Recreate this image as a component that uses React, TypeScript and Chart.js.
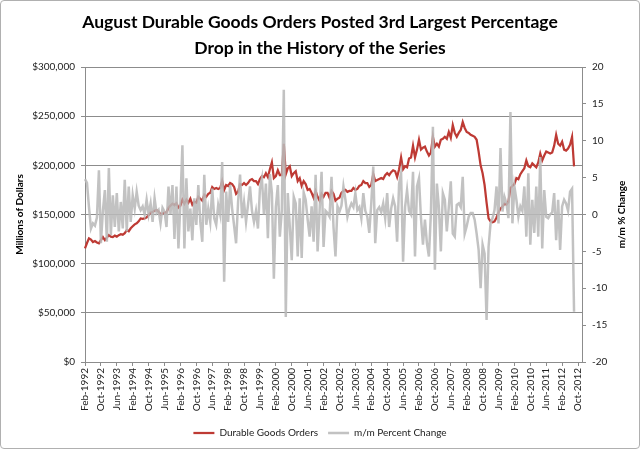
import React, { useEffect, useRef } from "react";
import { Chart, registerables } from "chart.js";

Chart.register(...registerables);

// ---- Data ----
const TITLE_LINES = [
  "August Durable Goods Orders Posted 3rd Largest Percentage",
  "Drop in the History of the Series",
];
const LEFT_AXIS_TITLE = "Millions of Dollars";
const RIGHT_AXIS_TITLE = "m/m % Change";
const SERIES_NAMES = ["Durable Goods Orders", "m/m Percent Change"];

const MONTH_NAMES = ["Jan", "Feb", "Mar", "Apr", "May", "Jun", "Jul", "Aug", "Sep", "Oct", "Nov", "Dec"];
const FIRST_YEAR = 1992;
const FIRST_MONTH = 1; // Feb
const MONTH_COUNT = 251; // Feb-1992 .. Dec-2012 (axis span)
const LABEL_EVERY = 8;

const categories: string[] = [];
for (let i = 0; i < MONTH_COUNT; i++) {
  const m = FIRST_MONTH + i;
  categories.push(MONTH_NAMES[m % 12] + "-" + (FIRST_YEAR + Math.floor(m / 12)));
}

// Durable goods new orders, millions of dollars (Feb-1992 .. Aug-2012)
const durableGoods = [
  115600, 121000, 125700, 124500, 122000, 123000, 121500, 120600, 124000, 127000,
  124000, 126500, 129000, 127500, 127000, 128500, 127500, 129000, 130000, 129500,
  131000, 134000, 133000, 136000, 138000, 140000, 141000, 143000, 146000, 145500,
  146000, 147000, 149500, 152000, 152500, 154000, 154500, 153000, 150000, 151000,
  152000, 152000, 157000, 159000, 161000, 159500, 161500, 157000, 159000, 165000,
  161000, 165000, 162000, 166000, 160000, 163000, 162000, 168000, 166000, 164000,
  170000, 168000, 171000, 172000, 178000, 176000, 177000, 176000, 177000, 184000,
  175000, 180000, 179000, 182000, 181000, 178000, 171000, 173000, 181000, 180000,
  182000, 180000, 182000, 185000, 186000, 184000, 184000, 181000, 186000, 189000,
  188000, 192000, 188000, 196000, 203000, 187000, 189000, 195000, 190000, 190000,
  222000, 191000, 197000, 199000, 189000, 192000, 194000, 184000, 187000, 179000,
  184000, 181000, 175000, 176000, 172000, 167000, 174000, 168000, 164000, 171000,
  168000, 172000, 172000, 167000, 174000, 171000, 164000, 166000, 167000, 172000,
  174000, 175000, 173000, 174000, 174000, 177000, 175000, 176000, 179000, 180000,
  184000, 182000, 182000, 178000, 180000, 191000, 184000, 185000, 186000, 187000,
  186000, 190000, 192000, 190000, 193000, 195000, 194000, 188000, 196000, 208000,
  196000, 199000, 198000, 207000, 208000, 220000, 208000, 216000, 226000, 216000,
  218000, 219000, 214000, 210000, 213000, 229000, 219000, 222000, 219000, 226000,
  227000, 229000, 227000, 234000, 228000, 241000, 233000, 229000, 233000, 236000,
  244000, 238000, 234000, 233000, 231000, 230000, 229000, 226000, 214000, 200000,
  192000, 180000, 162000, 146000, 143000, 142000, 143000, 147000, 152000, 156000,
  158000, 161000, 160000, 163000, 177000, 179000, 181000, 187000, 186000, 191000,
  194000, 197000, 205000, 199000, 198000, 202000, 200000, 198000, 203000, 212000,
  205000, 210000, 214000, 213000, 212000, 213000, 220000, 231000, 222000, 220000,
  224000, 216000, 215000, 217000, 221000, 229000, 199000,
];

// Month-over-month percent change
const pctChange = [
  4.8, 4.3, 1.0, -1.9, -1.2, -1.5, -0.4, 6.0, -3.9, 0.5,
  3.3, -3.7, 6.3, -2.8, 2.6, -1.7, 2.9, -2.3, 1.7, -1.9,
  4.7, -2.3, 3.8, -1.0, 2.6, 0.8, 3.1, 1.2, 0.6, 1.1,
  0.0, 2.0, 0.0, 1.5, -1.0, 2.2, 0.2, 0.6, -1.2, 0.9,
  0.4, -1.7, 3.8, 0.0, 4.0, -3.3, 3.8, -4.6, 1.7, 9.4,
  -4.6, 4.9, -2.3, 0.8, -3.5, 2.2, -1.4, 4.0, -1.0, -3.7,
  5.4, -1.4, 0.8, -1.0, 3.5, -0.5, -1.4, 1.3, 0.0, 7.1,
  -9.1, 3.1, -1.0, 4.0, 0.8, -1.5, -3.9, 1.7, 5.4, -0.5,
  1.7, -1.0, 1.3, 3.8, 0.5, -1.0, 0.5, -1.9, 3.5, 4.9,
  0.0, 4.2, -3.2, 5.5, 3.0, -8.7, 1.0, 4.0, -3.0, 0.5,
  16.9, -13.9, 2.9, -1.6, -6.2, 2.4, 1.5, -5.7, 2.2, -5.9,
  3.0, 2.0, -0.7, -3.0, 1.1, -3.7, 5.4, -5.0, 0.5, 5.8,
  -4.4, 0.5, 0.2, -0.3, 5.1, -1.7, -5.7, 1.1, 0.4, 1.2,
  3.8, 2.0, -0.3, 0.8, 1.5, 1.0, 2.9, 0.6, 1.0, -0.5,
  2.9, 0.5, -0.3, -2.5, 1.5, 6.5, -3.9, 0.6, 1.0, 0.3,
  1.5, -0.5, 2.9, -1.7, 0.8, 2.2, 1.1, -3.7, 4.2, 5.6,
  -6.4, 1.0, 3.3, 0.5, 0.0, 5.8, -5.7, 3.8, 4.9, -0.5,
  -4.1, -0.7, -3.9, -5.7, 0.2, 11.9, -7.5, 4.2, 1.0, -5.0,
  2.9, 2.0, -2.3, 1.0, 4.5, -2.6, -3.0, 1.3, 1.5, 1.0,
  5.1, -2.6, -1.6, -0.3, 0.2, 0.2, -0.7, -2.6, -4.8, -10.0,
  -4.1, -5.3, -14.3, -4.4, -1.2, -0.5, 0.6, 3.8, -1.2, 9.0,
  0.4, 2.4, 1.5, -0.5, 13.9, -1.2, 3.8, 2.0, -0.3, 1.1,
  0.5, 3.8, -3.0, 5.6, -4.1, 2.0, -2.5, 3.8, -3.0, 7.8,
  -4.6, 3.3, -0.3, -0.5, 0.0, 0.3, 2.9, -3.5, 2.0, -4.8,
  1.1, 2.0, 1.5, 0.5, 3.1, 3.5, -13.2,
];

const LEFT_MIN = 0;
const LEFT_MAX = 300000;
const LEFT_STEP = 50000;
const RIGHT_MIN = -20;
const RIGHT_MAX = 20;
const RIGHT_STEP = 5;

// ---- Styles ----
const FONT = "Lato, 'Open Sans', sans-serif";
const RED = "#BE3A34";
const GRAY = "rgba(185,185,185,0.88)";
const GRID = "#8C8C8C";
const TEXT = "#222222";

export default function App() {
  const canvasRef = useRef<HTMLCanvasElement | null>(null);

  useEffect(() => {
    const canvas = canvasRef.current;
    if (!canvas) return;

    const rightTitlePlugin = {
      id: "rightTitle",
      afterDraw(chart: any) {
        const c = chart.ctx;
        const area = chart.chartArea;
        c.save();
        c.translate(622, (area.top + area.bottom) / 2);
        c.rotate(-Math.PI / 2);
        c.font = `bold 10px ${FONT}`;
        c.fillStyle = "#000";
        c.textAlign = "center";
        c.textBaseline = "middle";
        c.fillText(RIGHT_AXIS_TITLE, 0, 0);
        c.restore();
      },
    };

    const chart = new Chart(canvas, {
      type: "line",
      data: {
        labels: categories,
        datasets: [
          {
            label: SERIES_NAMES[0],
            data: durableGoods,
            yAxisID: "y",
            borderColor: RED,
            backgroundColor: RED,
            borderWidth: 2.25,
            pointRadius: 0,
            tension: 0,
            order: 1,
          },
          {
            label: SERIES_NAMES[1],
            data: pctChange,
            yAxisID: "y1",
            borderColor: GRAY,
            backgroundColor: GRAY,
            borderWidth: 2.5,
            pointRadius: 0,
            tension: 0,
            order: 0,
          },
        ],
      },
      options: {
        responsive: false,
        animation: false,
        devicePixelRatio: 1,
        layout: { padding: { left: 0, right: 0, top: 0, bottom: 1 } },
        plugins: {
          title: {
            display: true,
            text: TITLE_LINES,
            color: "#000",
            font: { family: FONT, size: 17.5, weight: "bold", lineHeight: 26 / 17.5 },
            padding: { top: 9, bottom: 6 },
          },
          legend: {
            position: "bottom",
            labels: {
              usePointStyle: true,
              pointStyle: "line",
              pointStyleWidth: 21,
              color: TEXT,
              font: { family: FONT, size: 10 },
              padding: 10,
              sort: (a: any, b: any) => a.datasetIndex - b.datasetIndex,
            },
          },
          tooltip: { enabled: false },
        },
        scales: {
          x: {
            type: "category",
            offset: false,
            grid: { drawOnChartArea: false, drawTicks: true, tickLength: 4, color: GRID },
            border: { color: GRID },
            ticks: {
              autoSkip: false,
              minRotation: 90,
              maxRotation: 90,
              padding: 2,
              color: TEXT,
              font: { family: FONT, size: 10 },
              callback: (_v: any, i: number) => (i % LABEL_EVERY === 0 ? categories[i] : null),
            },
            afterFit: (s: any) => {
              s.height = 56;
            },
          },
          y: {
            position: "left",
            min: LEFT_MIN,
            max: LEFT_MAX,
            grid: { color: GRID, tickLength: 4 },
            border: { color: GRID },
            ticks: {
              stepSize: LEFT_STEP,
              padding: 6,
              color: TEXT,
              font: { family: FONT, size: 10 },
              callback: (v: any) => "$" + Number(v).toLocaleString("en-US"),
            },
            title: {
              display: true,
              text: LEFT_AXIS_TITLE,
              color: "#000",
              font: { family: FONT, size: 10, weight: "bold" },
              padding: { top: 14, bottom: 0 },
            },
            afterFit: (s: any) => {
              s.width = 85;
            },
          },
          y1: {
            position: "right",
            min: RIGHT_MIN,
            max: RIGHT_MAX,
            grid: { drawOnChartArea: false, tickLength: 4, color: GRID },
            border: { color: GRID },
            ticks: {
              stepSize: RIGHT_STEP,
              padding: 6,
              color: TEXT,
              font: { family: FONT, size: 10 },
            },
            afterFit: (s: any) => {
              s.width = 58;
            },
          },
        },
      } as any,
      plugins: [rightTitlePlugin],
    });

    return () => chart.destroy();
  }, []);

  return (
    <div style={{ position: "fixed", left: 0, top: 0, width: 640, height: 449, background: "#fff" }}>
      <canvas ref={canvasRef} width={640} height={449} style={{ display: "block" }} />
      <div
        style={{
          position: "absolute",
          left: 0,
          top: 0,
          width: 640,
          height: 449,
          boxSizing: "border-box",
          border: "1px solid #b0b0b0",
          borderRadius: 4,
          pointerEvents: "none",
        }}
      />
    </div>
  );
}
